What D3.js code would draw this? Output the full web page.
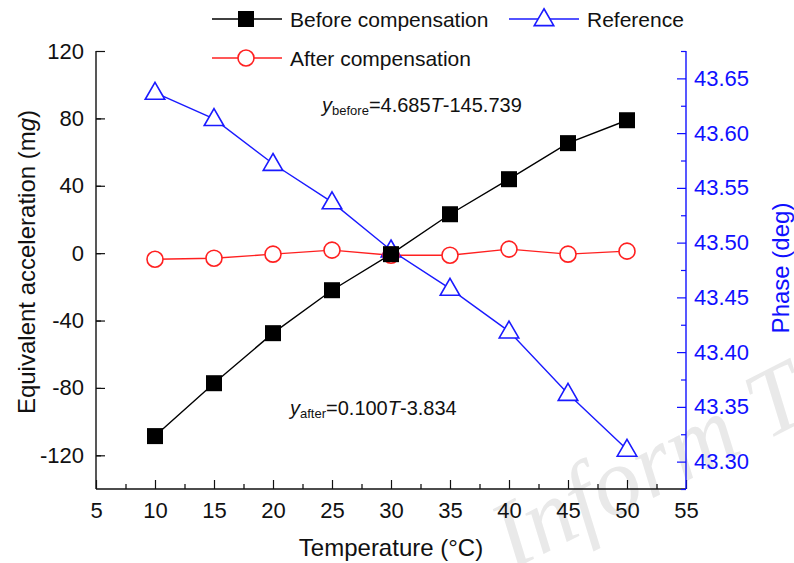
<!DOCTYPE html>
<html>
<head>
<meta charset="utf-8">
<script src="https://cdn.jsdelivr.net/npm/d3@7"></script>
<style>
  body { margin: 0; background: #fff; }
  svg { font-family: 'Liberation Sans', Arial, sans-serif; }
</style>
</head>
<body>
<svg id="chart" width="794" height="563"></svg>
<script>
const temps = [10, 15, 20, 25, 30, 35, 40, 45, 50];
const beforeComp = [-108.6, -77.2, -47.5, -22.0, -0.6, 23.1, 43.9, 65.3, 78.9];
const afterComp = [-3.6, -3.0, -0.6, 1.8, -1.2, -1.2, 2.4, -0.6, 1.2];
const referencePhase = [43.637, 43.613, 43.572, 43.537, 43.493, 43.458, 43.419, 43.362, 43.311];
const xTicks = [5, 10, 15, 20, 25, 30, 35, 40, 45, 50, 55];
const yLeftTicks = [-120, -80, -40, 0, 40, 80, 120];
const yRightTicks = [43.30, 43.35, 43.40, 43.45, 43.50, 43.55, 43.60, 43.65];

const svg = d3.select('#chart');
const plotL = 96, plotR = 686, plotT = 51, plotB = 489;

// watermark
svg.append('text')
  .attr('transform', 'translate(512,570) rotate(-27)')
  .attr('font-family', "'Liberation Serif', serif")
  .attr('font-style', 'italic')
  .attr('font-size', 96)
  .attr('fill', '#e9e9e9')
  .text('Inform Tech');

const x = d3.scaleLinear().domain([5, 55]).range([plotL, plotR]);
const yL = d3.scaleLinear().domain([-140, 120]).range([plotB, plotT]);
const yR = d3.scaleLinear().domain([43.275, 43.675]).range([plotB, plotT]);

// axes (hyphen minus like the original, not U+2212)
const xAxis = d3.axisBottom(x).tickValues(xTicks).tickSize(-9).tickPadding(13).tickFormat(d => String(d));
const xMinor = d3.axisBottom(x).tickValues(d3.range(7.5, 55, 5)).tickSize(-5).tickFormat('');
const yAxisL = d3.axisLeft(yL).tickValues(yLeftTicks).tickSize(-9).tickPadding(12).tickFormat(d => String(d));
const yMinorL = d3.axisLeft(yL).tickValues(d3.range(-140, 120, 40).map(v => v + 20).filter(v => v < 120)).tickSize(-5).tickFormat('');
const yAxisR = d3.axisRight(yR).tickValues(yRightTicks).tickSize(-9).tickPadding(8).tickFormat(d3.format('.2f'));
const yMinorR = d3.axisRight(yR).tickValues(d3.range(43.275, 43.7, 0.05).map(v => +v.toFixed(3)).filter(v => v < 43.676)).tickSize(-5).tickFormat('');

function styleAxis(g, color) {
  g.select('.domain').attr('stroke', color).attr('stroke-width', 1.4);
  g.selectAll('.tick line').attr('stroke', color).attr('stroke-width', 1.2);
  g.selectAll('.tick text').attr('fill', color).attr('font-size', 22).attr('font-family', "'Liberation Sans', Arial, sans-serif");
}

svg.append('g').attr('transform', `translate(0,${plotB})`).call(xMinor).call(g => { styleAxis(g, '#000'); g.select('.domain').remove(); });
svg.append('g').attr('transform', `translate(0,${plotB})`).call(xAxis).call(g => { styleAxis(g, '#111'); g.select('.domain').attr('d', `M${plotL},0H${plotR}`); });
svg.append('g').attr('transform', `translate(${plotL},0)`).call(yMinorL).call(g => { styleAxis(g, '#000'); g.select('.domain').remove(); });
svg.append('g').attr('transform', `translate(${plotL},0)`).call(yAxisL).call(g => { styleAxis(g, '#111'); g.select('.domain').attr('d', `M0,${plotT}V${plotB}`); });
svg.append('g').attr('transform', `translate(${plotR},0)`).call(yMinorR).call(g => { styleAxis(g, '#1010ff'); g.select('.domain').remove(); });
svg.append('g').attr('transform', `translate(${plotR},0)`).call(yAxisR).call(g => { styleAxis(g, '#1010ff'); g.select('.domain').attr('d', `M0,${plotT}V${plotB}`); });

// axis titles
svg.append('text')
  .attr('x', 391).attr('y', 556)
  .attr('text-anchor', 'middle').attr('font-size', 24).attr('fill', '#111')
  .text('Temperature (°C)');

const yt = svg.append('text')
  .attr('transform', 'translate(35,262) rotate(-90)')
  .attr('text-anchor', 'middle').attr('font-size', 24).attr('fill', '#111');
yt.append('tspan').text('Equivalent acceleration (m');
yt.append('tspan').attr('font-style', 'italic').text('g');
yt.append('tspan').text(')');

svg.append('text')
  .attr('transform', 'translate(789,268) rotate(-90)')
  .attr('text-anchor', 'middle').attr('font-size', 24).attr('fill', '#1010ff')
  .text('Phase (deg)');

// series
const blue = '#1a1aff', red = '#ff2020';
const lineL = d3.line().x((d, i) => x(temps[i])).y(d => yL(d));
const lineR = d3.line().x((d, i) => x(temps[i])).y(d => yR(d));

svg.append('path').datum(referencePhase).attr('d', lineR).attr('fill', 'none').attr('stroke', blue).attr('stroke-width', 1.4);
svg.append('path').datum(afterComp).attr('d', lineL).attr('fill', 'none').attr('stroke', red).attr('stroke-width', 1.4);
svg.append('path').datum(beforeComp).attr('d', lineL).attr('fill', 'none').attr('stroke', '#000').attr('stroke-width', 1.4);

const tri = d3.symbol().type(d3.symbolTriangle).size(165);
svg.selectAll('path.ref').data(referencePhase).enter().append('path')
  .attr('class', 'ref')
  .attr('d', tri)
  .attr('transform', (d, i) => `translate(${x(temps[i])},${yR(d) + 1})`)
  .attr('fill', '#fff').attr('stroke', blue).attr('stroke-width', 1.6);

svg.selectAll('circle.after').data(afterComp).enter().append('circle')
  .attr('class', 'after')
  .attr('cx', (d, i) => x(temps[i])).attr('cy', d => yL(d)).attr('r', 8)
  .attr('fill', '#fff').attr('stroke', red).attr('stroke-width', 1.6);

svg.selectAll('rect.before').data(beforeComp).enter().append('rect')
  .attr('class', 'before')
  .attr('x', (d, i) => x(temps[i]) - 8).attr('y', d => yL(d) - 8)
  .attr('width', 16).attr('height', 16).attr('fill', '#000');

// legend
const legend = svg.append('g').attr('font-size', 21).attr('fill', '#111');
function legendLine(x0, y0, color) {
  legend.append('line').attr('x1', x0).attr('x2', x0 + 70).attr('y1', y0).attr('y2', y0)
    .attr('stroke', color).attr('stroke-width', 1.4);
}
legendLine(212, 19, '#000');
legend.append('rect').attr('x', 238).attr('y', 11).attr('width', 16).attr('height', 16).attr('fill', '#000');
legend.append('text').attr('x', 290).attr('y', 27).text('Before compensation');
legendLine(509, 19, blue);
legend.append('path').attr('d', tri).attr('transform', 'translate(544,20)')
  .attr('fill', '#fff').attr('stroke', blue).attr('stroke-width', 1.6);
legend.append('text').attr('x', 587).attr('y', 27).text('Reference');
legendLine(212, 58, red);
legend.append('circle').attr('cx', 246).attr('cy', 58).attr('r', 8)
  .attr('fill', '#fff').attr('stroke', red).attr('stroke-width', 1.6);
legend.append('text').attr('x', 290).attr('y', 66).text('After compensation');

// fit equations
function equation(x0, y0, sub, rest) {
  const t = svg.append('text').attr('x', x0).attr('y', y0).attr('font-size', 20).attr('fill', '#111');
  t.append('tspan').attr('font-style', 'italic').text('y');
  t.append('tspan').attr('font-size', 13).attr('dy', 3).text(sub);
  t.append('tspan').attr('dy', -3).text(rest[0]);
  t.append('tspan').attr('font-style', 'italic').text('T');
  t.append('tspan').text(rest[1]);
}
equation(322, 112, 'before', ['=4.685', '-145.739']);
equation(290, 415, 'after', ['=0.100', '-3.834']);
</script>
</body>
</html>
